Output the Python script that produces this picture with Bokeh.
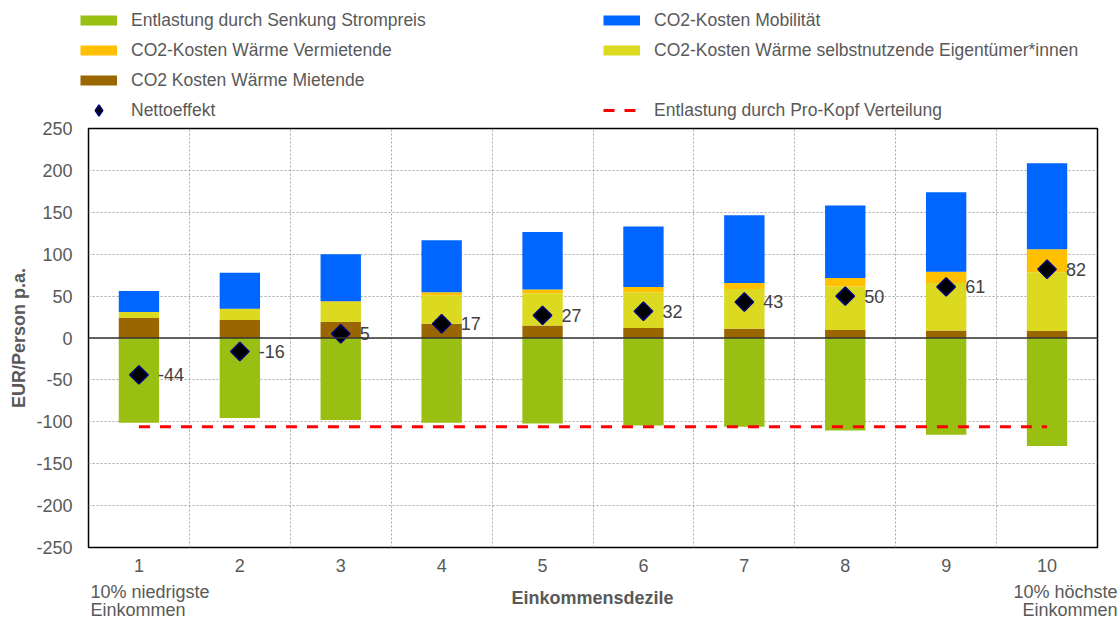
import math
from bokeh.plotting import figure
from bokeh.layouts import column, row
from bokeh.models import ColumnDataSource, FixedTicker, Legend, LegendItem, Span, Label, Range1d
from bokeh.core.properties import value
from bokeh.embed import file_html
from bokeh.resources import INLINE

# ---------------- data ----------------
deciles = [1, 2, 3, 4, 5, 6, 7, 8, 9, 10]
x_tick_labels = ["1", "2", "3", "4", "5", "6", "7", "8", "9", "10"]
strompreis = [-101, -95.5, -98, -101, -102, -104.5, -106, -110.5, -115.5, -129]
waerme_mietende = [24, 21.5, 19, 17, 15, 12, 11, 9.5, 9, 8.5]
waerme_selbst = [7, 13, 24, 34, 38.5, 42.5, 47.5, 52, 56.5, 70]
waerme_vermietende = [0, 0.5, 1, 3.5, 4.5, 6.5, 7, 10, 13.5, 27.5]
mobilitaet = [25, 43, 56, 62, 68.5, 72, 81, 86.5, 95, 102.5]
netto = [-44, -16, 5, 17, 27, 32, 43, 50, 61, 82]
pro_kopf = [-106, -106, -106, -106, -106, -106, -106, -106, -106, -106]
y_ticks = [-250, -200, -150, -100, -50, 0, 50, 100, 150, 200, 250]
y_tick_labels = ["-250", "-200", "-150", "-100", "-50", "0", "50", "100", "150", "200", "250"]

names = {
    "strom": "Entlastung durch Senkung Strompreis",
    "verm": "CO2-Kosten Wärme Vermietende",
    "miet": "CO2 Kosten Wärme Mietende",
    "netto": "Nettoeffekt",
    "mobil": "CO2-Kosten Mobilität",
    "selbst": "CO2-Kosten Wärme selbstnutzende Eigentümer*innen",
    "kopf": "Entlastung durch Pro-Kopf Verteilung",
}
colors = {
    "strom": "#98BF12",
    "verm": "#FFC000",
    "miet": "#996600",
    "mobil": "#0066FF",
    "selbst": "#DCDA20",
    "kopf": "#FF0000",
}

FONT = "Liberation Sans"
TXT = "#595959"
W = 1120
HEAD_H = 120
MAIN_H = 459
FOOT_H = 618 - HEAD_H - MAIN_H
NAN = float("nan")

src = ColumnDataSource(dict(
    x=deciles, strom=strompreis, miet=waerme_mietende, selbst=waerme_selbst,
    verm=waerme_vermietende, mobil=mobilitaet, netto=netto, kopf=pro_kopf,
    lbl=[str(v) for v in netto],
))


def blank_fig(h):
    f = figure(width=W, height=h, output_backend="svg", toolbar_location=None,
               x_range=Range1d(0, W), y_range=Range1d(h, 0),
               x_axis_type=None, y_axis_type=None,
               min_border=0, min_border_left=0, min_border_right=0,
               min_border_top=0, min_border_bottom=0)
    f.outline_line_color = None
    f.grid.visible = False
    f.background_fill_color = "white"
    f.border_fill_color = "white"
    return f


# ---------------- main chart ----------------
p = figure(width=W, height=MAIN_H, output_backend="svg", toolbar_location=None,
           x_range=Range1d(0.5, 10.5), y_range=Range1d(-250, 250),
           min_border_left=88, min_border_right=23, min_border_top=8, min_border_bottom=32)
p.background_fill_color = "white"
p.border_fill_color = "white"
p.outline_line_color = "#000000"
p.outline_line_width = 1.5

p.ygrid.ticker = FixedTicker(ticks=y_ticks)
p.ygrid.grid_line_color = "#A6A6A6"
p.ygrid.grid_line_dash = "2 2"
p.xgrid.ticker = FixedTicker(ticks=[d + 0.5 for d in deciles[:-1]])
p.xgrid.grid_line_color = "#A6A6A6"
p.xgrid.grid_line_dash = "2 2"

p.vbar(x="x", top="strom", bottom=0, width=0.4, source=src, fill_color=colors["strom"], line_color=None)
p.vbar_stack(["miet", "selbst", "verm", "mobil"], x="x", width=0.4, source=src,
             fill_color=[colors["miet"], colors["selbst"], colors["verm"], colors["mobil"]],
             line_color=None)

p.add_layout(Span(location=0, dimension="width", line_color="#333333", line_width=1.5))

p.line(x="x", y="kopf", source=src, line_color=colors["kopf"], line_width=3, line_dash="11 10")
p.scatter(x="x", y="netto", source=src, marker="square", angle=math.pi / 4, size=13,
          fill_color="black", line_color="#000080", line_width=1.5)
p.text(x="x", y="netto", text="lbl", source=src, x_offset=19, text_baseline="middle",
       text_font=value(FONT), text_font_size="18px", text_color="#404040")

for ax in (p.xaxis[0], p.yaxis[0]):
    ax.major_label_text_font = FONT
    ax.major_label_text_font_size = "18px"
    ax.major_label_text_color = TXT
    ax.axis_label_text_font = FONT
    ax.axis_label_text_font_size = "18px"
    ax.axis_label_text_font_style = "bold"
    ax.axis_label_text_color = TXT
    ax.major_tick_line_color = None
    ax.minor_tick_line_color = None
    ax.major_tick_in = 0
    ax.major_tick_out = 0
    ax.minor_tick_out = 0
    ax.axis_line_color = None

p.yaxis.ticker = FixedTicker(ticks=y_ticks)
p.yaxis.major_label_overrides = {t: s for t, s in zip(y_ticks, y_tick_labels)}
p.yaxis.major_label_standoff = 16
p.yaxis.axis_label = "EUR/Person p.a."
p.yaxis.axis_label_standoff = 4
p.xaxis.ticker = FixedTicker(ticks=deciles)
p.xaxis.major_label_overrides = {d: t for d, t in zip(deciles, x_tick_labels)}
p.xaxis.major_label_standoff = 11

# ---------------- header with legends ----------------
head = blank_fig(HEAD_H)
hl = {}
for k in ["strom", "verm", "miet", "mobil", "selbst"]:
    hl[k] = head.line(x=[NAN], y=[NAN], line_color=colors[k], line_width=10)
hl["netto"] = head.scatter(x=[NAN], y=[NAN], marker="diamond", size=13,
                           fill_color="black", line_color="#000080", line_width=1.5)
hl["kopf"] = head.line(x=[NAN], y=[NAN], line_color=colors["kopf"], line_width=3, line_dash="11 10")


def make_legend(keys, loc):
    lg = Legend(items=[LegendItem(label=names[k], renderers=[hl[k]]) for k in keys],
                location=loc, orientation="vertical", glyph_width=37, glyph_height=28,
                label_height=20, spacing=2, padding=0, margin=0, label_standoff=14,
                label_text_font=FONT, label_text_font_size="17.5px", label_text_color=TXT,
                border_line_color=None, background_fill_alpha=0)
    head.add_layout(lg)


make_legend(["strom", "verm", "miet", "netto"], (80, -4))
make_legend(["mobil", "selbst"], (603, 56))
make_legend(["kopf"], (603, -4))

# ---------------- footer with x-axis texts ----------------
foot = blank_fig(FOOT_H)
for txt, xs, ys, al, st in [("10% niedrigste", 90, 12, "left", "normal"),
                            ("Einkommen", 90, 30, "left", "normal"),
                            ("10% höchste", 1117, 12, "right", "normal"),
                            ("Einkommen", 1117, 30, "right", "normal"),
                            ("Einkommensdezile", 592, 18, "center", "bold")]:
    foot.add_layout(Label(x=xs, y=ys, text=txt, text_align=al, text_baseline="middle",
                          text_font=FONT, text_font_size="18px", text_color=TXT,
                          text_font_style=st))

layout = column(row(head), row(p), row(foot), spacing=0)
open("out.html", "w").write(file_html(layout, INLINE))
